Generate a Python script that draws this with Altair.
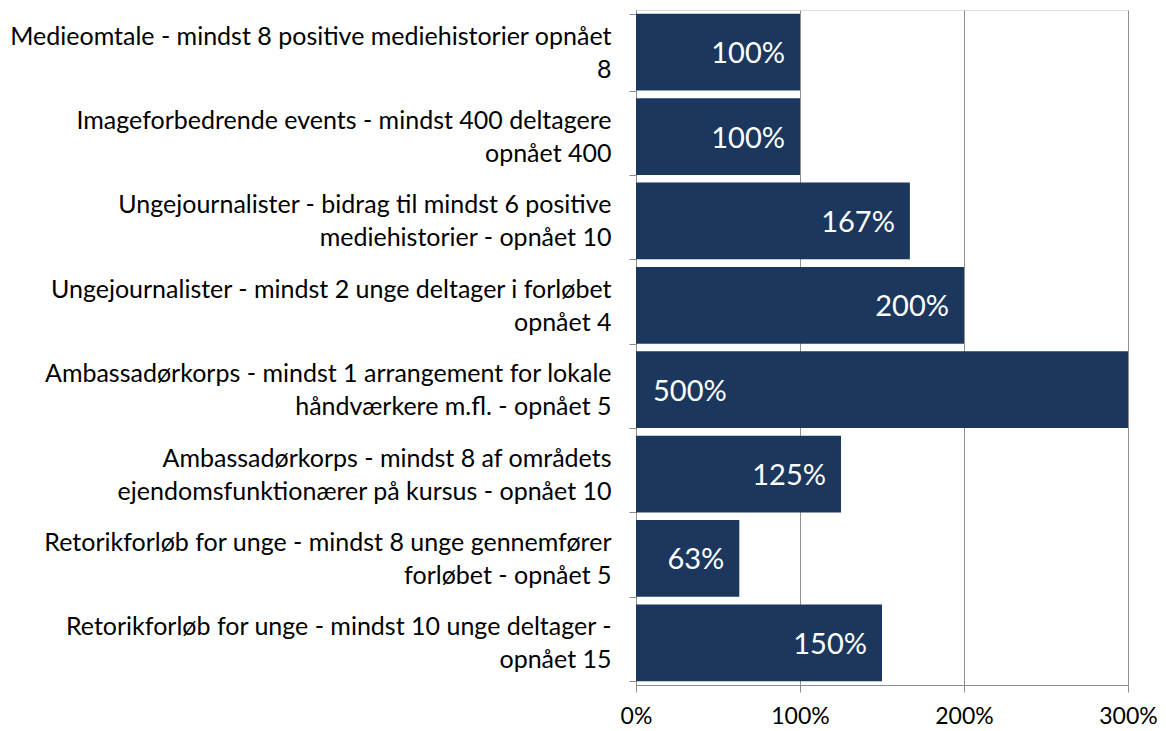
import altair as alt
import pandas as pd

line1 = [
    "Medieomtale - mindst 8 positive mediehistorier opnået",
    "Imageforbedrende events - mindst 400 deltagere",
    "Ungejournalister - bidrag til mindst 6 positive",
    "Ungejournalister - mindst 2 unge deltager i forløbet",
    "Ambassadørkorps - mindst 1 arrangement for lokale",
    "Ambassadørkorps - mindst 8 af områdets",
    "Retorikforløb for unge - mindst 8 unge gennemfører",
    "Retorikforløb for unge - mindst 10 unge deltager -",
]
line2 = [
    "8",
    "opnået 400",
    "mediehistorier - opnået 10",
    "opnået 4",
    "håndværkere m.fl.  - opnået 5",
    "ejendomsfunktionærer på kursus - opnået 10",
    "forløbet - opnået 5",
    "opnået 15",
]
values = [100, 100, 167, 200, 500, 125, 63, 150]
labels = ["100%", "100%", "167%", "200%", "500%", "125%", "63%", "150%"]
x_ticks = [0, 100, 200, 300]

df = pd.DataFrame({
    "cat": [a + "|" + b for a, b in zip(line1, line2)],
    "value": values,
    "label": labels,
})

FONT = "Lato"
BAR = "#1B375E"

xscale = alt.Scale(domain=[0, 300], clamp=True, nice=False)
yscale = alt.Scale(paddingInner=0.09, paddingOuter=0.045)

xaxis = alt.Axis(
    values=x_ticks, labelExpr="datum.value + '%'", title=None, grid=True,
    gridColor="#8F8F8F", domainColor="#8C8C8C", tickColor="#8C8C8C", tickSize=7,
    labelFontSize=23, labelFont=FONT, labelColor="#000000", labelPadding=13,
    labelFlush=False,
)
yaxis = alt.Axis(
    title=None, labelExpr="split(datum.label, '|')", tickBand="extent", grid=False,
    domainColor="#8C8C8C", tickColor="#8C8C8C", tickSize=7, labelFontSize=25,
    labelFont=FONT, labelColor="#000000", labelPadding=18, labelLineHeight=33,
    labelOffset=-16, labelLimit=700,
)

base = alt.Chart(df)

bars = base.mark_bar(color=BAR).encode(
    x=alt.X("value:Q", scale=xscale, axis=xaxis),
    y=alt.Y("cat:N", sort=None, scale=yscale, axis=yaxis),
)

text_in = base.transform_filter("datum.value <= 300").mark_text(
    align="right", baseline="middle", dx=-15, dy=2, color="white", font=FONT, fontSize=29
).encode(
    x=alt.X("value:Q", scale=xscale),
    y=alt.Y("cat:N", sort=None, scale=yscale),
    text="label:N",
)

text_out = base.transform_filter("datum.value > 300").transform_calculate(
    xpos="0"
).mark_text(
    align="left", baseline="middle", dx=17, dy=2, color="white", font=FONT, fontSize=29
).encode(
    x=alt.X("xpos:Q", scale=xscale),
    y=alt.Y("cat:N", sort=None, scale=yscale),
    text="label:N",
)

chart = (
    alt.layer(bars, text_in, text_out)
    .properties(
        width=492, height=675,
        autosize=alt.AutoSizeParams(type="none"),
        padding={"left": 628, "top": 2, "right": 30, "bottom": 46},
    )
    .configure_view(stroke=None)
    .configure(background="white")
)

chart.save("out.html", embed_options={"renderer": "svg", "actions": False})
